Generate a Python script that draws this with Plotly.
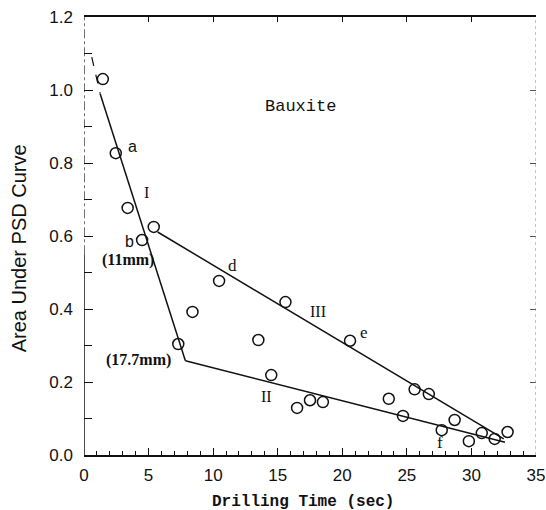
import plotly.graph_objects as go

# Measured points: drilling time (s) vs area under the PSD curve
time_s = [1.46, 2.46, 3.38, 4.5, 5.4, 7.3, 8.4, 10.46, 13.5, 14.5, 15.6, 16.5,
          17.5, 18.5, 20.6, 23.6, 24.7, 25.6, 26.7, 27.7, 28.7, 29.8, 30.8,
          31.8, 32.8]
area = [1.03, 0.827, 0.677, 0.589, 0.625, 0.304, 0.392, 0.477, 0.315, 0.219,
        0.419, 0.129, 0.15, 0.145, 0.313, 0.154, 0.107, 0.18, 0.167, 0.068,
        0.096, 0.038, 0.06, 0.044, 0.063]

# Fitted trend segments
line_I_ext_x = [0.6, 1.25]
line_I_ext_y = [1.09, 0.99]
line_I_x = [1.25, 7.85]
line_I_y = [0.99, 0.258]
line_II_x = [7.85, 32.6]
line_II_y = [0.258, 0.035]
line_III_x = [5.7, 32.5]
line_III_y = [0.611, 0.044]

# Text labels placed on the plot
labels = ["a", "I", "b", "(11mm)", "(17.7mm)", "d", "III", "e", "II", "f", "Bauxite"]
label_x = [3.77, 4.85, 3.54, 3.38, 4.2, 11.5, 18.15, 21.7, 14.15, 27.6, 16.8]
label_y = [0.844, 0.718, 0.586, 0.534, 0.26, 0.518, 0.392, 0.337, 0.159, 0.033, 0.956]

x_ticks = [0, 5, 10, 15, 20, 25, 30, 35]
y_ticks = [0.0, 0.2, 0.4, 0.6, 0.8, 1.0, 1.2]

INK = "#111111"
fig = go.Figure()

line_style = dict(color=INK, width=1.5)
fig.add_trace(go.Scatter(x=line_I_ext_x, y=line_I_ext_y, mode="lines",
                         line=dict(color=INK, width=1.2, dash="dash")))
for lx, ly in [(line_I_x, line_I_y), (line_II_x, line_II_y), (line_III_x, line_III_y)]:
    fig.add_trace(go.Scatter(x=lx, y=ly, mode="lines", line=line_style))

fig.add_trace(go.Scatter(
    x=time_s, y=area, mode="markers",
    marker=dict(symbol="circle-open", size=11, color=INK, line=dict(width=1.5)),
))

label_fonts = {
    "a": dict(family="Liberation Sans", size=16),
    "b": dict(family="Liberation Sans", size=16),
    "d": dict(family="Liberation Serif", size=17),
    "e": dict(family="Liberation Serif", size=17),
    "f": dict(family="Liberation Serif", size=17),
    "I": dict(family="Liberation Serif", size=16),
    "II": dict(family="Liberation Serif", size=16),
    "III": dict(family="Liberation Serif", size=16),
    "(11mm)": dict(family="Liberation Serif", size=16),
    "(17.7mm)": dict(family="Liberation Serif", size=16),
    "Bauxite": dict(family="Liberation Mono", size=17),
}
for t, x, y in zip(labels, label_x, label_y):
    f = dict(label_fonts[t])
    f["color"] = INK
    if "mm" in t:
        t = "<b>" + t + "</b>"
    fig.add_annotation(x=x, y=y, text=t, showarrow=False, font=f,
                       xanchor="center", yanchor="middle")

# Axis titles
fig.add_annotation(x=-0.145, y=0.473, xref="paper", yref="paper",
                   text="Area Under PSD Curve", textangle=-90, showarrow=False,
                   xanchor="center", yanchor="middle",
                   font=dict(family="Liberation Sans", size=20, color=INK))
fig.add_annotation(x=0.485, y=-0.082, xref="paper", yref="paper",
                   text="<b>Drilling Time (sec)</b>", showarrow=False, yanchor="top",
                   font=dict(family="Liberation Mono", size=16, color=INK))

# Frame: solid lower left axis, broken upper part, dotted right edge
fig.add_shape(type="line", x0=0, x1=0, y0=0, y1=0.55, xref="x", yref="y",
              line=dict(color=INK, width=1.5))
fig.add_shape(type="line", x0=0, x1=0, y0=0.55, y1=1.2, xref="x", yref="y",
              line=dict(color=INK, width=1.2, dash="dashdot"))
fig.add_shape(type="line", x0=35, x1=35, y0=0, y1=1.2, xref="x", yref="y",
              line=dict(color="#888888", width=1, dash="dot"))

tick_font = dict(family="Liberation Sans", size=17, color=INK)
fig.update_layout(
    width=546, height=510,
    margin=dict(l=84, r=10, t=17, b=55, autoexpand=False),
    paper_bgcolor="white", plot_bgcolor="white",
    showlegend=False,
    xaxis=dict(range=[0, 35], tickvals=x_ticks, ticks="inside", ticklen=7,
               tickwidth=1.3, tickcolor=INK, showgrid=False, zeroline=False,
               showline=True, linecolor=INK, linewidth=1.8,
               tickfont=tick_font, ticklabelstandoff=4,
               ticklabeloverflow="allow", automargin=False,
               minor=dict(dtick=1, ticks="inside", ticklen=4, tickcolor=INK,
                          tickwidth=1, showgrid=False)),
    xaxis2=dict(range=[0, 35], overlaying="x", side="top", tickvals=x_ticks,
                ticks="inside", ticklen=5, tickcolor=INK, showticklabels=False,
                showgrid=False, zeroline=False, showline=True, linecolor=INK,
                linewidth=2, automargin=False),
    yaxis=dict(range=[0, 1.2], tickvals=y_ticks, ticktext=["0.0", "0.2", "0.4", "0.6", "0.8", "1.0", "1.2"],
               ticks="inside", ticklen=9, tickwidth=1.3, tickcolor=INK,
               showgrid=False, zeroline=False, showline=False,
               tickfont=tick_font, ticklabelstandoff=10,
               ticklabeloverflow="allow", automargin=False,
               minor=dict(dtick=0.1, ticks="inside", ticklen=8, tickcolor=INK,
                          tickwidth=1, showgrid=False)),
    yaxis2=dict(range=[0, 1.2], overlaying="y", side="right", dtick=0.2,
                ticks="inside", ticklen=6, tickcolor="#555555",
                showticklabels=False, showgrid=False, zeroline=False,
                showline=False, automargin=False),
)
# Invisible trace to activate the secondary axes
fig.add_trace(go.Scatter(x=[0], y=[0], xaxis="x2", yaxis="y2", mode="markers",
                         marker=dict(opacity=0), hoverinfo="skip"))

fig.write_html("out.html")
